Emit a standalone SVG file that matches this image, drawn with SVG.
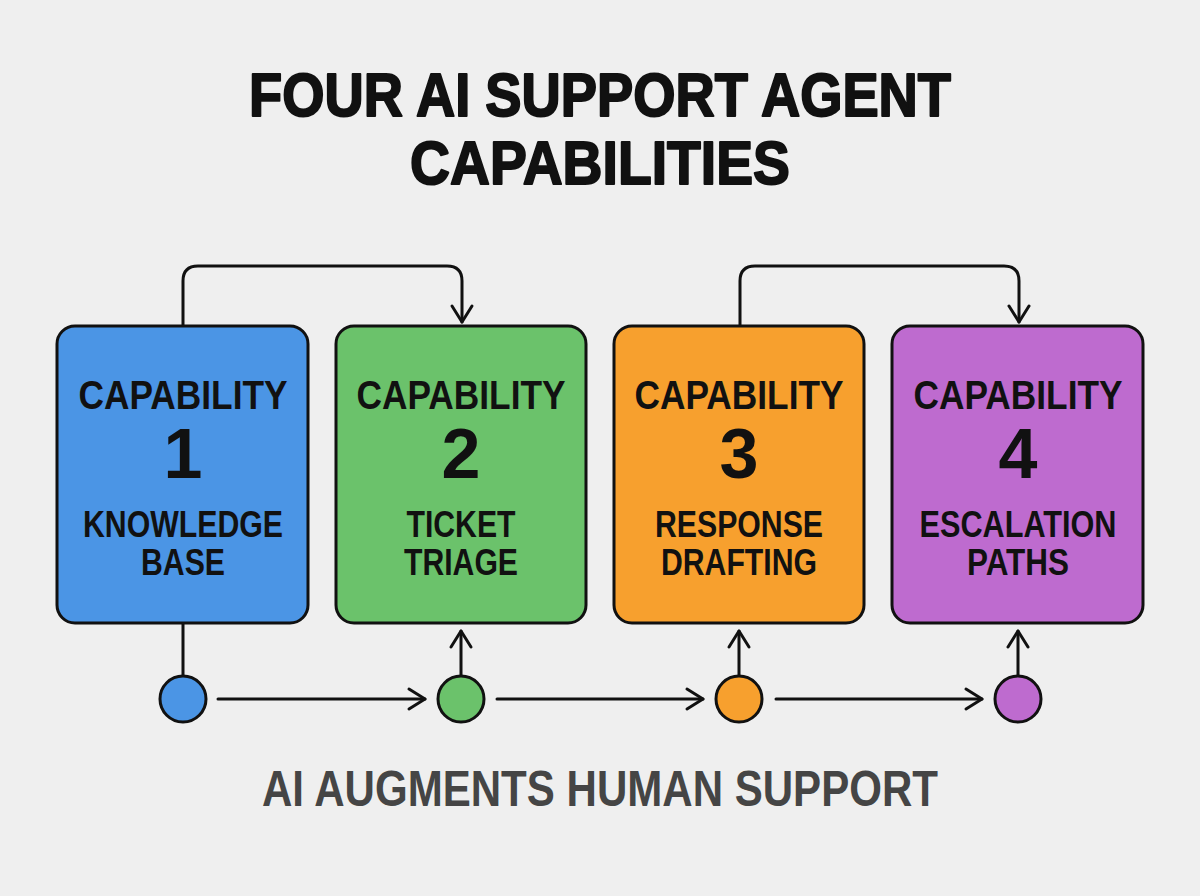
<svg xmlns="http://www.w3.org/2000/svg" width="1200" height="896" viewBox="0 0 1200 896">
  <defs>
    <marker id="arr" viewBox="-20 -14 24 28" refX="0" refY="0" markerWidth="24" markerHeight="28" markerUnits="userSpaceOnUse" orient="auto" overflow="visible">
      <path d="M-16,-10 L0,0 L-16,10" fill="none" stroke="#111" stroke-width="3" stroke-linecap="round" stroke-linejoin="round"/>
    </marker>
  </defs>
  <style>
    .title { font-family: "Liberation Sans", Arial, sans-serif; font-weight: bold; font-size: 62px; fill: #111; stroke: #111; stroke-width: 2; stroke-linejoin: round; }
    .box { stroke: #111; stroke-width: 3; }
    .cap { font-family: "Liberation Sans", Arial, sans-serif; font-weight: bold; font-size: 40px; fill: #111; }
    .num { font-family: "Liberation Sans", Arial, sans-serif; font-weight: bold; font-size: 70px; fill: #111; }
    .lbl { font-family: "Liberation Sans", Arial, sans-serif; font-weight: bold; font-size: 36px; fill: #111; }
    .foot { font-family: "Liberation Sans", Arial, sans-serif; font-weight: bold; font-size: 50px; fill: #454545; }
    .conn { fill: none; stroke: #111; stroke-width: 3; stroke-linecap: round; stroke-linejoin: round; }
    .dot { stroke: #111; stroke-width: 3; }
    .blue { fill: #4B95E5; }
    .green { fill: #6BC26B; }
    .orange { fill: #F7A02E; }
    .purple { fill: #BE6BCF; }
  </style>
  <rect x="0" y="0" width="1200" height="896" fill="#EFEFEF"/>

  <g id="title">
    <text class="title" x="600" y="116" text-anchor="middle" textLength="702" lengthAdjust="spacingAndGlyphs">FOUR AI SUPPORT AGENT</text>
    <text class="title" x="600" y="184" text-anchor="middle" textLength="380" lengthAdjust="spacingAndGlyphs">CAPABILITIES</text>
  </g>

  <g id="connectors">
    <path class="conn" d="M183,326 V281 Q183,266 198,266 H447 Q462,266 462,281 V322" marker-end="url(#arr)"/>
    <path class="conn" d="M740,326 V281 Q740,266 755,266 H1004 Q1019,266 1019,281 V322" marker-end="url(#arr)"/>
    <path class="conn" d="M183,624 V676"/>
    <path class="conn" d="M218,699 H425" marker-end="url(#arr)"/>
    <path class="conn" d="M497,699 H703" marker-end="url(#arr)"/>
    <path class="conn" d="M776,699 H982" marker-end="url(#arr)"/>
    <path class="conn" d="M461,675 V631" marker-end="url(#arr)"/>
    <path class="conn" d="M739,675 V631" marker-end="url(#arr)"/>
    <path class="conn" d="M1018,675 V631" marker-end="url(#arr)"/>
  </g>

  <g id="node1">
    <rect class="box blue" x="57" y="326" width="251" height="297" rx="18"/>
    <text class="cap" x="183" y="409" text-anchor="middle" textLength="209" lengthAdjust="spacingAndGlyphs">CAPABILITY</text>
    <text class="num" x="183" y="478" text-anchor="middle">1</text>
    <text class="lbl" x="183" y="537" text-anchor="middle" textLength="200" lengthAdjust="spacingAndGlyphs">KNOWLEDGE</text>
    <text class="lbl" x="183" y="575" text-anchor="middle" textLength="84" lengthAdjust="spacingAndGlyphs">BASE</text>
  </g>
  <g id="node2">
    <rect class="box green" x="336" y="326" width="250" height="297" rx="18"/>
    <text class="cap" x="461" y="409" text-anchor="middle" textLength="209" lengthAdjust="spacingAndGlyphs">CAPABILITY</text>
    <text class="num" x="461" y="478" text-anchor="middle">2</text>
    <text class="lbl" x="461" y="537" text-anchor="middle" textLength="109" lengthAdjust="spacingAndGlyphs">TICKET</text>
    <text class="lbl" x="461" y="575" text-anchor="middle" textLength="114" lengthAdjust="spacingAndGlyphs">TRIAGE</text>
  </g>
  <g id="node3">
    <rect class="box orange" x="614" y="326" width="250" height="297" rx="18"/>
    <text class="cap" x="739" y="409" text-anchor="middle" textLength="209" lengthAdjust="spacingAndGlyphs">CAPABILITY</text>
    <text class="num" x="739" y="478" text-anchor="middle">3</text>
    <text class="lbl" x="739" y="537" text-anchor="middle" textLength="168" lengthAdjust="spacingAndGlyphs">RESPONSE</text>
    <text class="lbl" x="739" y="575" text-anchor="middle" textLength="156" lengthAdjust="spacingAndGlyphs">DRAFTING</text>
  </g>
  <g id="node4">
    <rect class="box purple" x="892" y="326" width="251" height="297" rx="18"/>
    <text class="cap" x="1018" y="409" text-anchor="middle" textLength="209" lengthAdjust="spacingAndGlyphs">CAPABILITY</text>
    <text class="num" x="1018" y="478" text-anchor="middle">4</text>
    <text class="lbl" x="1018" y="537" text-anchor="middle" textLength="197" lengthAdjust="spacingAndGlyphs">ESCALATION</text>
    <text class="lbl" x="1018" y="575" text-anchor="middle" textLength="102" lengthAdjust="spacingAndGlyphs">PATHS</text>
  </g>

  <g id="dot1"><circle class="dot blue" cx="183" cy="699" r="23"/></g>
  <g id="dot2"><circle class="dot green" cx="461" cy="699" r="23"/></g>
  <g id="dot3"><circle class="dot orange" cx="739" cy="699" r="23"/></g>
  <g id="dot4"><circle class="dot purple" cx="1018" cy="699" r="23"/></g>

  <g id="footer">
    <text class="foot" x="600" y="806" text-anchor="middle" textLength="676" lengthAdjust="spacingAndGlyphs">AI AUGMENTS HUMAN SUPPORT</text>
  </g>
</svg>
